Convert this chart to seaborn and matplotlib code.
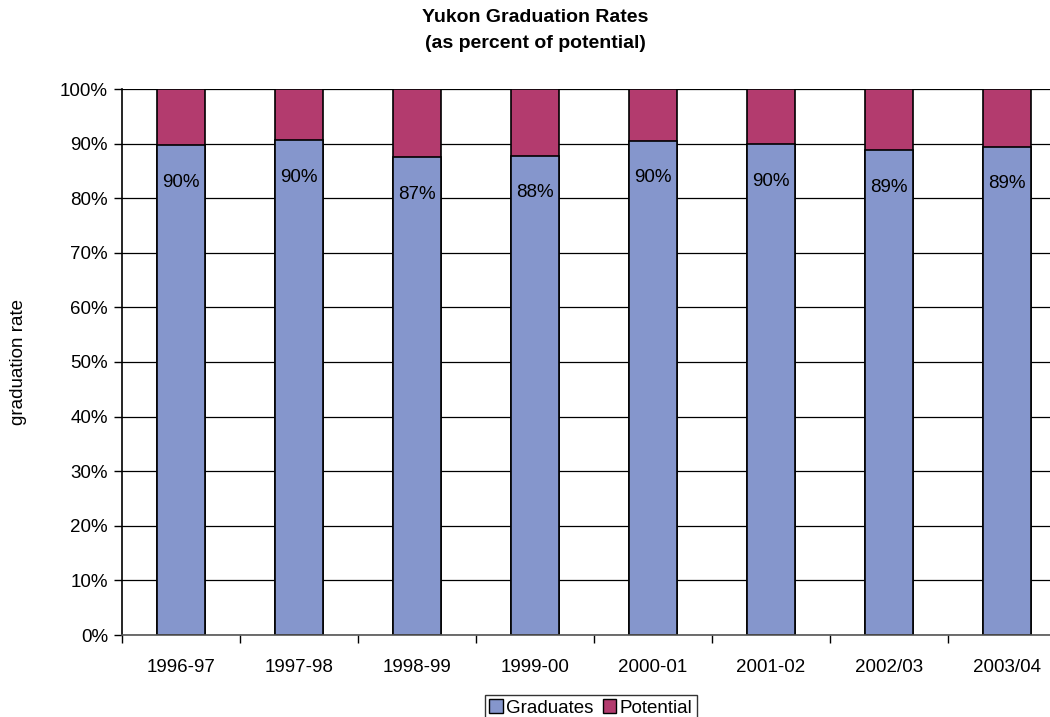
import numpy as np
import pandas as pd
import matplotlib
matplotlib.use("Agg")
import matplotlib.pyplot as plt
import seaborn as sns
from matplotlib.patches import Patch

years = ["1996-97", "1997-98", "1998-99", "1999-00", "2000-01", "2001-02", "2002/03", "2003/04"]
graduates = [89.7, 90.6, 87.5, 87.8, 90.5, 89.9, 88.8, 89.4]
labels = ["90%", "90%", "87%", "88%", "90%", "90%", "89%", "89%"]
total = [100] * len(years)

grad_color = "#8596CC"
pot_color = "#B33B6E"

sns.set_theme(style="white")
plt.rcParams["font.family"] = ["Liberation Sans", "DejaVu Sans"]
plt.rcParams["text.color"] = "black"
plt.rcParams["xtick.color"] = "black"
plt.rcParams["ytick.color"] = "black"
plt.rcParams["axes.labelcolor"] = "black"

fs = 13.5

fig = plt.figure(figsize=(10.5, 7.17), dpi=100)
ax = fig.add_axes([122 / 1050, 1 - 635 / 717, 944 / 1050, 546 / 717])

df = pd.DataFrame({"year": years, "graduates": graduates, "total": total})

# full-height bars first (potential), graduates drawn over them
sns.barplot(data=df, x="year", y="total", color=pot_color, width=0.41,
            edgecolor="black", linewidth=1.2, saturation=1, ax=ax)
sns.barplot(data=df, x="year", y="graduates", color=grad_color, width=0.41,
            edgecolor="black", linewidth=1.2, saturation=1, ax=ax)

for i, (v, lab) in enumerate(zip(graduates, labels)):
    ax.annotate(lab, (i, v), xytext=(0, -37), textcoords="offset pixels",
                ha="center", va="center", fontsize=fs, color="black")

ax.set_ylim(0, 100)
ax.set_xlim(-0.5, len(years) - 0.5)
ax.set_yticks(np.arange(0, 101, 10))
ax.set_yticklabels([f"{t}%" for t in range(0, 101, 10)], fontsize=fs)
ax.set_xticks(range(len(years)))
ax.set_xticklabels(years, fontsize=fs)
ax.tick_params(axis="x", length=0, pad=17)
ax.tick_params(axis="y", length=6, width=1, direction="out", left=True, pad=4)

# category separators on x axis
ax.set_xticks(np.arange(-0.5, len(years), 1), minor=True)
ax.tick_params(axis="x", which="minor", length=6, width=1, direction="out", bottom=True)

ax.yaxis.grid(True, color="black", linewidth=0.9)
ax.set_axisbelow(True)
for s in ["top", "right"]:
    ax.spines[s].set_visible(False)
ax.spines["left"].set_color("black")
ax.spines["bottom"].set_color("#555555")
ax.spines["left"].set_linewidth(1.2)
ax.spines["bottom"].set_linewidth(1.2)

ax.set_xlabel("")
ax.set_ylabel("graduation rate", fontsize=fs)
ax.yaxis.set_label_coords(-95 / 944, 0.5)

fig.text(535 / 1050, 1 - 18 / 717, "Yukon Graduation Rates", ha="center", va="center",
         fontsize=fs + 0.5, fontweight="bold")
fig.text(535 / 1050, 1 - 43 / 717, "(as percent of potential)", ha="center", va="center",
         fontsize=fs + 0.5, fontweight="bold")

handles = [Patch(facecolor=grad_color, edgecolor="black", linewidth=1),
           Patch(facecolor=pot_color, edgecolor="black", linewidth=1)]
leg = fig.legend(handles, ["Graduates", "Potential"], loc="center",
                 bbox_to_anchor=(591 / 1050, 1 - 708 / 717), ncol=2, frameon=True,
                 fancybox=False, edgecolor="black", fontsize=fs, handlelength=0.7,
                 handleheight=0.7, handletextpad=0.2, columnspacing=0.5,
                 borderpad=0.25, borderaxespad=0)
leg.get_frame().set_linewidth(1)

fig.savefig("out.png", dpi=100)
